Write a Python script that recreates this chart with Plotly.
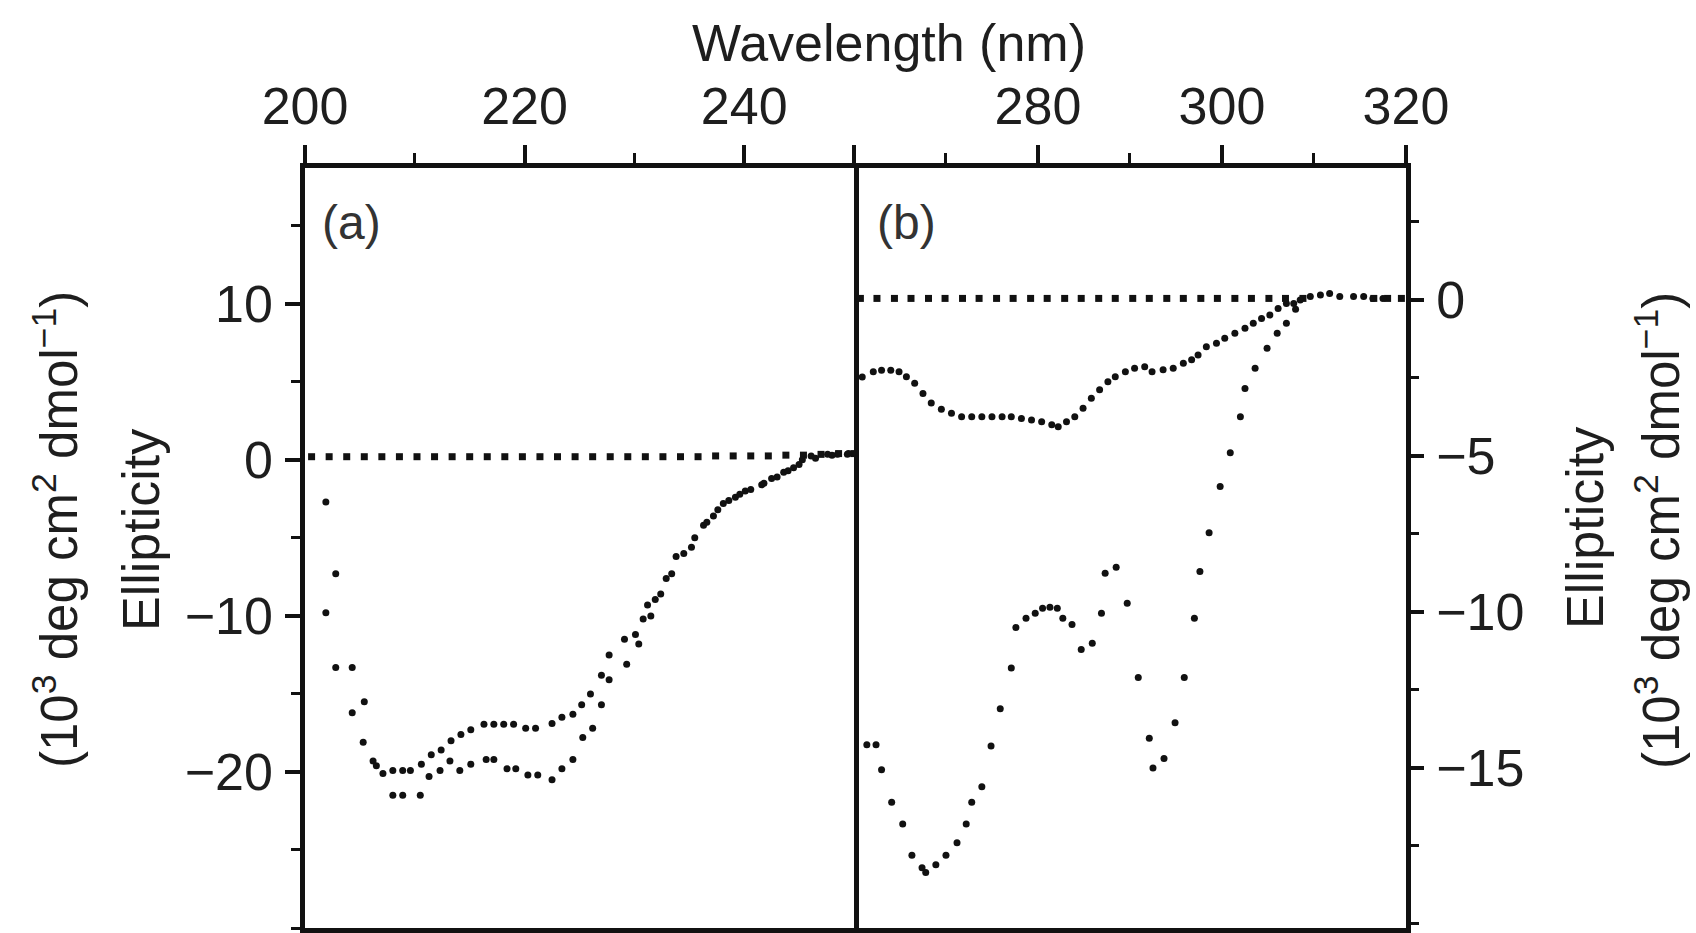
import plotly.graph_objects as go

# ---------------- data ----------------
# Panel (a): far-UV CD, wavelength (nm) vs ellipticity (10^3 deg cm2 dmol-1)
a_base_x = [200.6, 202.2, 203.8, 205.4, 207.0, 208.6, 210.2, 211.8, 213.4, 215.0, 216.6, 218.2,
            219.8, 221.4, 223.0, 224.6, 226.2, 227.8, 229.4, 231.0, 232.6, 234.2, 235.8, 237.4,
            239.0, 240.6, 242.2, 243.8, 245.4, 247.0, 248.6, 250.0]
a_base_y = [0.2, 0.2, 0.2, 0.2, 0.2, 0.2, 0.2, 0.2, 0.2, 0.2, 0.2, 0.2,
            0.2, 0.2, 0.2, 0.2, 0.2, 0.2, 0.2, 0.2, 0.2, 0.2, 0.2, 0.25,
            0.25, 0.25, 0.25, 0.3, 0.3, 0.35, 0.4, 0.4]

a1_x = [201.9, 202.8, 204.3, 205.3, 206.2, 207.1, 208.0, 208.9, 209.6, 210.6, 211.5, 212.4,
        213.3, 214.2, 215.1, 216.3, 217.2, 218.1, 219.0, 220.1, 221.0, 222.5, 223.4, 224.4,
        225.2, 226.0, 227.0, 227.7, 229.1, 230.1, 230.8, 231.2, 231.9, 232.9, 233.8, 235.2,
        236.3, 237.2, 238.1, 239.2, 240.1, 241.6, 242.5, 243.6, 244.5, 245.3, 246.1, 247.6,
        248.5, 249.4]
a1_y = [-2.7, -7.3, -13.3, -18.1, -19.3, -20.1, -19.9, -19.9, -19.9, -19.5, -18.9, -18.6,
        -18.0, -17.6, -17.3, -16.95, -16.95, -16.95, -16.95, -17.2, -17.2, -16.9, -16.5, -16.3,
        -15.7, -15.0, -13.8, -12.5, -11.5, -11.2, -10.2, -9.3, -8.95, -7.6, -6.2, -5.6,
        -4.2, -3.6, -2.8, -2.4, -2.0, -1.6, -1.2, -0.8, -0.5, 0.0, 0.25, 0.35,
        0.35, 0.35]

a2_x = [201.9, 202.8, 204.3, 205.4, 206.5, 208.0, 208.9, 210.5, 211.3, 212.3, 213.2, 214.1,
        215.1, 216.5, 217.2, 218.4, 219.2, 220.3, 221.2, 222.5, 223.4, 224.4, 225.3, 226.2,
        227.0, 227.7, 229.3, 230.4, 231.5, 232.4, 233.4, 234.5, 235.5, 236.6, 237.6, 238.6,
        239.6, 240.6, 241.8, 243.0, 244.0, 245.0, 246.5, 248.0, 249.5]
a2_y = [-9.8, -13.3, -16.2, -15.5, -19.6, -21.5, -21.5, -21.5, -20.3, -19.9, -19.3, -19.9,
        -19.5, -19.2, -19.2, -19.8, -19.8, -20.2, -20.2, -20.5, -19.8, -19.2, -17.8, -17.2,
        -15.7, -14.1, -13.1, -11.8, -10.0, -8.6, -7.3, -6.0, -5.0, -4.0, -3.2, -2.6,
        -2.2, -1.9, -1.5, -1.1, -0.7, -0.3, 0.1, 0.3, 0.4]

# Panel (b): near-UV CD
b_base_x = [260.7, 262.5, 264.4, 266.2, 268.1, 269.9, 271.8, 273.6, 275.5, 277.3, 279.2, 281.0,
            282.9, 284.7, 286.6, 288.4, 290.3, 292.1, 294.0, 295.8, 297.7, 299.5, 301.4, 303.2,
            305.1, 306.9, 308.8, 316.5, 318.0, 319.5]
b_base_y = [0.05, 0.05, 0.05, 0.05, 0.05, 0.05, 0.05, 0.05, 0.05, 0.05, 0.05, 0.05,
            0.05, 0.05, 0.05, 0.05, 0.05, 0.05, 0.05, 0.05, 0.05, 0.05, 0.05, 0.05,
            0.05, 0.05, 0.05, 0.05, 0.05, 0.05]

b1_x = [260.9, 262.1, 263.0, 264.0, 264.9, 265.7, 266.6, 267.5, 268.4, 269.5, 270.6, 271.7,
        272.8, 273.9, 275.0, 276.1, 277.1, 278.2, 279.3, 280.4, 281.5, 282.2, 283.1, 284.0,
        284.9, 285.8, 286.7, 287.6, 288.4, 289.5, 290.5, 291.6, 292.4, 293.6, 294.7, 295.8,
        296.7, 297.4, 298.3, 299.4, 300.3, 301.4, 302.5, 303.4, 304.3, 305.2, 306.1, 307.0,
        307.8, 308.5, 309.6, 310.7, 311.7, 312.8, 314.3, 315.4, 316.4, 317.5]
b1_y = [-2.47, -2.3, -2.25, -2.25, -2.3, -2.46, -2.67, -3.0, -3.3, -3.5, -3.63, -3.74,
        -3.74, -3.74, -3.74, -3.74, -3.74, -3.8, -3.85, -3.9, -4.0, -4.06, -3.9, -3.74,
        -3.47, -3.15, -2.88, -2.62, -2.46, -2.3, -2.19, -2.14, -2.3, -2.24, -2.19, -2.03,
        -1.92, -1.76, -1.5, -1.39, -1.23, -1.07, -0.91, -0.75, -0.59, -0.48, -0.27, -0.11,
        -0.11, 0.0, 0.11, 0.16, 0.21, 0.11, 0.11, 0.11, 0.05, 0.05]

b2_x = [261.4, 262.4, 263.0, 264.1, 265.3, 266.3, 267.4, 267.8, 268.9, 270.0, 271.2, 272.2,
        272.8, 273.9, 274.9, 275.9, 277.1, 277.6, 278.7, 279.7, 280.5, 281.3, 282.1, 282.7,
        283.7, 284.7, 285.9, 286.9, 287.3, 288.5, 289.7, 290.9, 292.1, 292.5, 293.7, 294.9,
        295.9, 297.0, 297.6, 298.6, 299.8, 300.9, 302.0, 302.5, 303.6, 304.9, 306.0, 307.0,
        308.0]
b2_y = [-14.26, -14.26, -15.06, -16.1, -16.8, -17.8, -18.2, -18.35, -18.1, -17.8, -17.4, -16.8,
        -16.1, -15.6, -14.3, -13.1, -11.8, -10.5, -10.2, -10.04, -9.88, -9.85, -9.88, -10.2,
        -10.4, -11.2, -11.0, -10.04, -8.76, -8.57, -9.72, -12.1, -14.05, -15.0, -14.7, -13.55,
        -12.1, -10.2, -8.7, -7.46, -5.98, -4.9, -3.74, -2.84, -2.19, -1.55, -1.07, -0.75,
        -0.3]

x_a_ticks = [200, 220, 240, 250]
x_a_labels = ["200", "220", "240", ""]
x_b_ticks = [260, 280, 300, 320]
x_b_labels = ["", "280", "300", "320"]
y_a_ticks = [-20, -10, 0, 10]
y_b_ticks = [-15, -10, -5, 0]

# ---------------- figure ----------------
FONT = "Liberation Sans, Arial, Helvetica, sans-serif"
INK = "#111111"
TXT = "#1e1e1e"

dot = dict(symbol="circle", size=7, color=INK)
dash = dict(symbol="square", size=7, color=INK)

fig = go.Figure()
fig.add_trace(go.Scatter(x=a_base_x, y=a_base_y, mode="markers", marker=dash, xaxis="x", yaxis="y"))
fig.add_trace(go.Scatter(x=a1_x, y=a1_y, mode="markers", marker=dot, xaxis="x", yaxis="y"))
fig.add_trace(go.Scatter(x=a2_x, y=a2_y, mode="markers", marker=dot, xaxis="x", yaxis="y"))
fig.add_trace(go.Scatter(x=b_base_x, y=b_base_y, mode="markers", marker=dash, xaxis="x2", yaxis="y2"))
fig.add_trace(go.Scatter(x=b1_x, y=b1_y, mode="markers", marker=dot, xaxis="x2", yaxis="y2"))
fig.add_trace(go.Scatter(x=b2_x, y=b2_y, mode="markers", marker=dot, xaxis="x2", yaxis="y2"))

L, R, T, B = 305, 290, 168, 5
W, H = 1696, 933
split = 0.4986

common = dict(showline=True, linewidth=4.5, linecolor=INK, showgrid=False,
              zeroline=False, ticks="outside", tickwidth=4, tickcolor=INK,
              tickfont=dict(family=FONT, size=52, color=TXT), automargin=False)

fig.update_layout(
    width=W, height=H,
    margin=dict(l=L, r=R, t=T, b=B),
    paper_bgcolor="white", plot_bgcolor="white",
    showlegend=False,
    font=dict(family=FONT, color=TXT),
    xaxis=dict(domain=[0, split], range=[200, 250], side="top", anchor="y", mirror=True,
               tickvals=x_a_ticks, ticktext=x_a_labels, ticklen=18, ticklabelstandoff=0,
               minor=dict(ticks="outside", dtick=10, tick0=200, ticklen=10, tickwidth=3, tickcolor=INK),
               **common),
    yaxis=dict(domain=[0, 1], range=[-30, 18.7], side="left", anchor="x", mirror=True,
               tickvals=y_a_ticks, ticklen=15, ticklabelstandoff=2,
               minor=dict(ticks="outside", dtick=5, tick0=0, ticklen=9, tickwidth=3, tickcolor=INK),
               **common),
    xaxis2=dict(domain=[split, 1], range=[260, 320], side="top", anchor="y2", mirror=True,
                tickvals=x_b_ticks, ticktext=x_b_labels, ticklen=18, ticklabelstandoff=0,
                minor=dict(ticks="outside", dtick=10, tick0=260, ticklen=10, tickwidth=3, tickcolor=INK),
                **common),
    yaxis2=dict(domain=[0, 1], range=[-20.13, 4.23], side="right", anchor="x2", mirror=False,
                tickvals=y_b_ticks, ticklen=13, ticklabelstandoff=2,
                minor=dict(ticks="outside", dtick=2.5, tick0=0, ticklen=8, tickwidth=3, tickcolor=INK),
                **common),
)

pw = W - L - R
ph = H - T - B


def px(xp):
    return (xp - L) / pw


def py(yp):
    return (H - B - yp) / ph


unit = "(10<sup>3</sup> deg cm<sup>2</sup> dmol<sup>\u22121</sup>)"
ann = [
    dict(text="Wavelength (nm)", x=px(889), y=py(43), size=52),
    dict(text=unit, x=px(56), y=py(530), size=51, angle=-90),
    dict(text="Ellipticity", x=px(141), y=py(530), size=52, angle=-90),
    dict(text="Ellipticity", x=px(1585), y=py(528), size=52, angle=-90),
    dict(text=unit, x=px(1658), y=py(531), size=51, angle=-90),
    dict(text="(a)", x=px(351), y=py(222), size=48, color="#333333"),
    dict(text="(b)", x=px(906), y=py(222), size=48, color="#333333"),
]
for a in ann:
    fig.add_annotation(text=a["text"], x=a["x"], y=a["y"], xref="paper", yref="paper",
                       xanchor="center", yanchor="middle", showarrow=False,
                       textangle=a.get("angle", 0),
                       font=dict(family=FONT, size=a["size"], color=a.get("color", TXT)))

fig.write_html("out.html")
